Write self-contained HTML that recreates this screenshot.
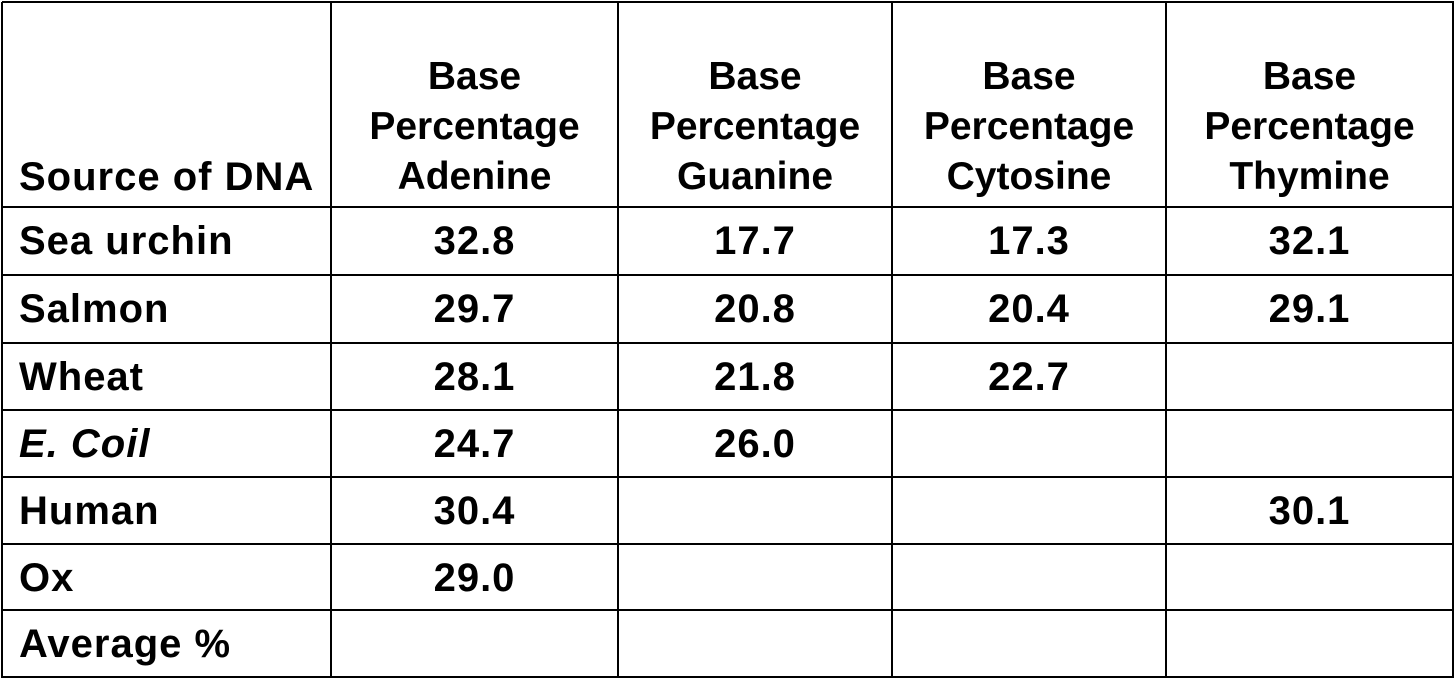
<!DOCTYPE html>
<html><head><meta charset="utf-8"><style>
html,body{margin:0;padding:0;background:#fff;}
body{width:1456px;height:695px;position:relative;overflow:hidden;font-family:"Liberation Sans",Arial,sans-serif;font-weight:bold;color:#000;}
.hl{position:absolute;left:2px;width:1452px;height:2px;background:#000;}
.vl{position:absolute;top:2px;height:676px;width:2px;background:#000;}
.c{position:absolute;font-size:39px;line-height:50px;white-space:nowrap;}
.v{font-size:40px;letter-spacing:1px;}
.ctr{text-align:center;transform:translateX(-50%);}
</style></head><body>
<div id="t"></div>
<script>
const rowLabels=["Sea urchin","Salmon","Wheat","E. Coil","Human","Ox","Average %"];
const headers=["Adenine","Guanine","Cytosine","Thymine"];
const adenine=["32.8","29.7","28.1","24.7","30.4","29.0",""];
const guanine=["17.7","20.8","21.8","26.0","","",""];
const cytosine=["17.3","20.4","22.7","","","",""];
const thymine=["32.1","29.1","","","30.1","",""];
const cols=[adenine,guanine,cytosine,thymine];
const xs=[2,331,618,892,1166,1453];
const ys=[2,207,275,343,410,477,544,610,677];
const t=document.getElementById('t');
ys.forEach((y,i)=>{const d=document.createElement('div');d.className='hl';d.style.top=(y-1)+'px';


t.appendChild(d);});
xs.forEach((x,i)=>{const d=document.createElement('div');d.className='vl';d.style.left=(x-1)+'px';


t.appendChild(d);});
function cell(txt,x,y,cls,name){const d=document.createElement('div');d.className='c '+cls;
d.style.left=x+'px';d.style.top=y+'px';d.innerHTML=txt;


t.appendChild(d);}
cell('Source of DNA',19,152,'v','header-source');
headers.forEach((h,i)=>{const cx=(xs[i+1]+xs[i+2])/2;
cell('Base<br>Percentage<br>'+h,cx,52,'ctr','header-'+h.toLowerCase());});
rowLabels.forEach((r,i)=>{const y=ys[i+1]+9;
cell(r==='E. Coil'?'<i>E. Coil</i>':r,19,y,'v','row-label');
cols.forEach((c,j)=>{if(c[i]){const cx=(xs[j+1]+xs[j+2])/2;cell(c[i],cx,y,'v ctr','value-cell');}});});
</script>
</body></html>
